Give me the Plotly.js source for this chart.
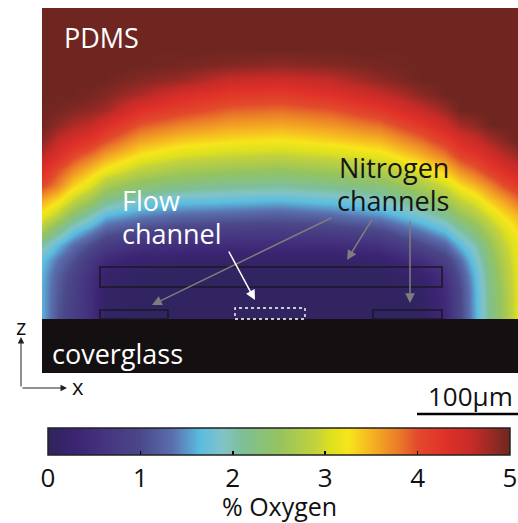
<!DOCTYPE html>
<html>
<head>
<meta charset="utf-8">
<script src="https://cdn.plot.ly/plotly-3.0.1.min.js"></script>
<style>html,body{margin:0;padding:0;background:#fff;}#chart{width:518px;height:523px;}</style>
</head>
<body>
<div id="chart"></div>
<script>
// Positions across the device (µm, 0 = left edge of the PDMS block)
const xPos = [0, 16, 32, 48, 64, 98, 138, 188, 238, 288, 338, 378, 403, 418, 433, 448, 462, 476];
// Height above the coverglass (µm), from top of PDMS to the glass surface
const zPos = [311, 269, 254, 239, 224, 209, 194, 179, 164, 149, 134, 119, 104, 89, 74, 59, 44, 29, 14, 0];
// % oxygen, one row per height (top to bottom)
const oxygen = [
  [5,5,5,5,5,5,5,5,5,5,5,5,5,5,5,5,5,5],
  [5,5,5,5,5,5,5,5,5,5,5,5,5,5,5,5,5,5],
  [5,5,5,5,5,5,4.97,4.9,4.85,4.9,4.97,5,5,5,5,5,5,5],
  [5,5,5,5,5,4.9,4.8,4.55,4.5,4.6,4.85,5,5,5,5,5,5,5],
  [5,5,5,4.97,4.9,4.7,4.4,4.2,4.15,4.3,4.55,4.85,5,5,5,5,5,5],
  [5,4.97,4.9,4.85,4.75,4.3,4.1,3.9,3.85,3.95,4.2,4.55,4.8,5,5,5,5,5],
  [5,4.85,4.7,4.6,4.35,3.95,3.75,3.6,3.55,3.65,3.85,4.2,4.5,4.75,4.85,5,5,5],
  [4.88,4.6,4.4,4.25,4.0,3.6,3.4,3.3,3.25,3.35,3.5,3.85,4.15,4.4,4.55,4.75,4.9,5],
  [4.65,4.35,4.05,3.85,3.6,3.25,3.05,2.95,2.9,3.0,3.15,3.5,3.8,4.1,4.25,4.45,4.65,4.82],
  [4.35,4.0,3.7,3.45,3.2,2.85,2.65,2.55,2.5,2.6,2.75,3.1,3.4,3.7,3.9,4.15,4.35,4.5],
  [4.05,3.75,3.35,3.1,2.7,2.4,2.25,2.15,2.1,2.2,2.35,2.7,3.0,3.3,3.5,3.75,4.0,4.2],
  [3.55,3.3,2.9,2.6,2.2,1.9,1.75,1.7,1.65,1.75,1.9,2.3,2.6,2.9,3.1,3.4,3.6,3.85],
  [3.2,2.85,2.35,2.0,1.65,1.45,1.3,1.25,1.2,1.3,1.5,1.85,2.15,2.5,2.75,3.05,3.3,3.5],
  [2.7,2.2,1.75,1.5,1.2,1.0,0.9,0.82,0.8,0.85,1.0,1.4,1.7,2.05,2.35,2.75,3.05,3.3],
  [2.05,1.65,1.3,1.05,0.75,0.55,0.5,0.45,0.45,0.45,0.55,0.95,1.25,1.65,2.0,2.5,2.9,3.2],
  [1.7,1.35,1.05,0.7,0.4,0.22,0.18,0.15,0.15,0.15,0.2,0.5,0.85,1.3,1.8,2.35,2.78,3.15],
  [1.62,1.2,0.9,0.55,0.2,0.08,0.05,0.05,0.05,0.05,0.06,0.2,0.55,1.1,1.65,2.25,2.7,3.12],
  [1.6,1.15,0.85,0.5,0.12,0.05,0.05,0.05,0.05,0.05,0.05,0.1,0.45,1.0,1.6,2.2,2.65,3.1],
  [1.6,1.12,0.82,0.5,0.12,0.05,0.05,0.05,0.05,0.05,0.05,0.05,0.42,0.98,1.58,2.18,2.62,3.1],
  [1.6,1.1,0.8,0.5,0.12,0.05,0.05,0.05,0.05,0.05,0.05,0.05,0.42,0.97,1.57,2.17,2.6,3.1]
];
// Channel geometry (µm): [x0, x1, z0, z1]
const nitrogenChannels = [[58, 400, 32, 52], [58, 126, 0, 9], [331, 400, 0, 9]];
const flowChannel = [193, 263, 0, 11];
const glassThickness = 54;
const colorTicks = [0, 1, 2, 3, 4, 5];
const scaleBarLength = 100;

const FONT = '"Open Sans", "Noto Sans", sans-serif';
const cscale = [
  [0, '#2f245d'], [0.06, '#3b2473'], [0.12, '#45337f'], [0.2, '#4b4889'],
  [0.27, '#5a6fae'], [0.33, '#5bbde0'], [0.38, '#82c3c6'], [0.42, '#7dbf98'],
  [0.5, '#95c35f'], [0.58, '#c3d23c'], [0.61, '#dde020'], [0.65, '#f7e51b'],
  [0.7, '#f6b322'], [0.76, '#ea7a29'], [0.8, '#e24a2b'], [0.86, '#e03029'],
  [0.92, '#c42b27'], [0.97, '#8e2924'], [1, '#6f2621']
];

const W = 476, PH = 365; // plot area px
const cbLeft = 6, cbRight = 468; // colorbar extents relative to plot left (px)
const cbTop = 55, cbH = 27;      // below plot bottom (px)

const shapes = [];
shapes.push({type:'rect', xref:'x', yref:'y', x0:0, x1:W, y0:-glassThickness, y1:0,
  fillcolor:'#140f10', line:{width:0}, layer:'above'});
nitrogenChannels.forEach(c => shapes.push({type:'rect', xref:'x', yref:'y',
  x0:c[0], x1:c[1], y0:c[2], y1:c[3], fillcolor:'rgba(0,0,0,0)',
  line:{color:'#1b1826', width:1.6}, layer:'above'}));
shapes.push({type:'rect', xref:'x', yref:'y', x0:flowChannel[0], x1:flowChannel[1],
  y0:flowChannel[2], y1:flowChannel[3], fillcolor:'rgba(0,0,0,0)',
  line:{color:'#ffffff', width:1.4, dash:'dot'}, layer:'above'});
// scale bar
shapes.push({type:'line', xref:'paper', yref:'paper', x0:(W - scaleBarLength - 1)/W, x1:1,
  y0:-41/PH, y1:-41/PH, line:{color:'#000', width:2.5}});
// top tick marks of the colour bar
colorTicks.slice(1, -1).forEach(v => {
  const px = cbLeft + v/5*(cbRight - cbLeft);
  shapes.push({type:'line', xref:'paper', yref:'paper', x0:px/W, x1:px/W,
    y0:-cbTop/PH, y1:-(cbTop+4)/PH, line:{color:'#000', width:1.5}});
});

const gray = '#7d7d7d';
const ann = [
  {text:'PDMS', x:20, y:282, xanchor:'left', color:'#fff'},
  {text:'Nitrogen', x:352, y:152, xanchor:'center', color:'#151515'},
  {text:'channels', x:351, y:119, xanchor:'center', color:'#151515'},
  {text:'Flow', x:78, y:119, xanchor:'left', color:'#fff'},
  {text:'channel', x:78, y:86, xanchor:'left', color:'#fff'},
  {text:'coverglass', x:8, y:-34, xanchor:'left', color:'#fff'}
].map(a => ({text:a.text, x:a.x, y:a.y, xref:'x', yref:'y', xanchor:a.xanchor,
  yanchor:'middle', showarrow:false, font:{family:FONT, size:27, color:a.color}}));

const arrows = [
  {x:110, y:14, ax:181, ay:-88, c:gray},
  {x:305, y:59, ax:26, ay:-42, c:gray},
  {x:368, y:16, ax:0, ay:-83, c:gray},
  {x:213, y:19, ax:-27, ay:-50, c:'#ffffff'}
].map(a => ({text:'', x:a.x, y:a.y, xref:'x', yref:'y', showarrow:true,
  ax:a.ax, ay:a.ay, arrowcolor:a.c, arrowwidth:1.5, arrowhead:2, arrowsize:1.3, standoff:0}));

const P = (px, py) => ({x:(px - 42)/W, y:(373 - py)/PH});
const label = (text, px, py, size) => Object.assign({text:text, xref:'paper', yref:'paper',
  xanchor:'center', yanchor:'middle', showarrow:false,
  font:{family:FONT, size:size, color:'#111'}}, P(px, py));
const extra = [
  Object.assign({text:'', xref:'paper', yref:'paper', ax:0, ay:51, showarrow:true,
    arrowcolor:'#222', arrowwidth:1, arrowhead:2, arrowsize:1.3, standoff:0}, P(21, 337)),
  Object.assign({text:'', xref:'paper', yref:'paper', ax:-46, ay:0, showarrow:true,
    arrowcolor:'#222', arrowwidth:1, arrowhead:2, arrowsize:1.3, standoff:0}, P(67, 388)),
  label('z', 21, 326, 22),
  label('x', 78, 386, 22),
  label('100μm', 470, 396, 26),
  label('% Oxygen', 279, 506, 25)
];

const trace = {
  type:'heatmap', x:xPos, y:zPos, z:oxygen, zmin:0, zmax:5, zsmooth:'best',
  colorscale:cscale, hoverinfo:'skip',
  colorbar:{orientation:'h', x:((cbLeft+cbRight)/2)/W, xanchor:'center',
    y:-cbTop/PH, yanchor:'top', len:(cbRight-cbLeft)/W, lenmode:'fraction',
    thickness:cbH, thicknessmode:'pixels', xpad:0, ypad:0,
    outlinewidth:1.5, outlinecolor:'#222',
    tickmode:'array', tickvals:colorTicks, ticktext:colorTicks.map(String),
    ticks:'inside', ticklen:4, tickwidth:1.5, tickcolor:'#000',
    tickfont:{family:FONT, size:26, color:'#111'}}
};

Plotly.newPlot('chart', [trace], {
  width:518, height:523, margin:{l:42, r:0, t:8, b:150, autoexpand:false},
  paper_bgcolor:'#fff', plot_bgcolor:'#fff',
  xaxis:{range:[0, W], visible:false, fixedrange:true},
  yaxis:{range:[-glassThickness, 311], visible:false, fixedrange:true},
  shapes:shapes, annotations:ann.concat(arrows, extra), showlegend:false
}, {staticPlot:true});
</script>
</body>
</html>
